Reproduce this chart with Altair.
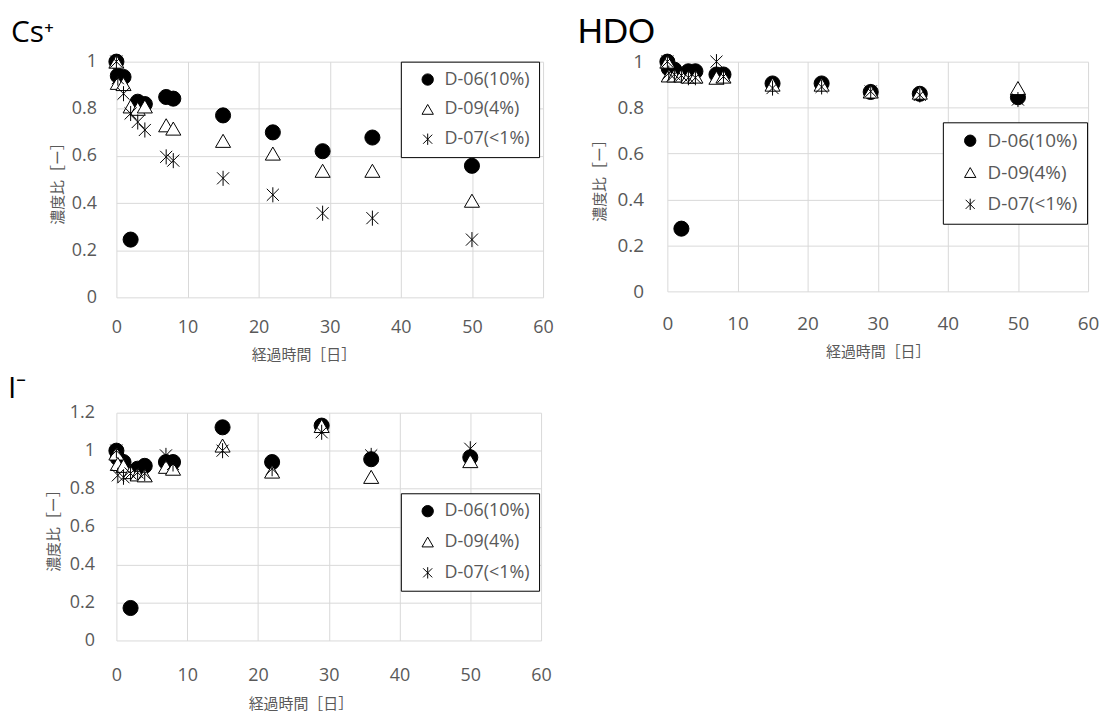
import altair as alt
import pandas as pd

# ---- data ----
times = [0, 0.2, 1, 2, 3, 4, 7, 8, 15, 22, 29, 36, 50]
series_names = ["D-06(10%)", "D-09(4%)", "D-07(<1%)"]

cs_d06 = [1.0, 0.94, 0.935, 0.245, 0.83, 0.82, 0.85, 0.843, 0.772, 0.70, 0.62, 0.678, 0.558]
cs_d09 = [1.0, 0.91, 0.905, 0.81, 0.80, 0.81, 0.73, 0.716, 0.664, 0.61, 0.537, 0.537, 0.41]
cs_d07 = [1.0, 0.93, 0.864, 0.78, 0.744, 0.71, 0.596, 0.58, 0.505, 0.435, 0.357, 0.336, 0.245]

hdo_d06 = [1.0, 0.97, 0.965, 0.273, 0.958, 0.958, 0.944, 0.944, 0.905, 0.905, 0.868, 0.86, 0.845]
hdo_d09 = [1.0, 0.94, 0.94, 0.94, 0.935, 0.935, 0.93, 0.935, 0.90, 0.90, 0.87, 0.865, 0.885]
hdo_d07 = [1.0, 0.95, 0.945, 0.94, 0.93, 0.93, 1.0, 0.935, 0.885, 0.89, 0.87, 0.855, 0.835]

i_d06 = [1.0, 0.96, 0.94, 0.171, 0.905, 0.92, 0.94, 0.94, 1.123, 0.94, 1.132, 0.955, 0.965]
i_d09 = [0.985, 0.93, 0.92, 0.887, 0.875, 0.87, 0.915, 0.905, 1.027, 0.89, 1.13, 0.862, 0.945]
i_d07 = [1.0, 0.87, 0.86, 0.88, 0.885, 0.88, 0.975, 0.93, 1.0, 0.905, 1.097, 0.975, 1.01]

x_ticks = [0, 10, 20, 30, 40, 50, 60]
y_ticks_1 = [0, 0.2, 0.4, 0.6, 0.8, 1.0]
y_ticks_12 = [0, 0.2, 0.4, 0.6, 0.8, 1.0, 1.2]

STAR = "M-0.8,-0.8L0.8,0.8M0.8,-0.8L-0.8,0.8M0,-1L0,1"
GRAY = "#595959"
GRID = "#d9d9d9"
LATIN = "Open Sans"
CJK = "Noto Sans CJK JP"


def frame(vals):
    rows = []
    for name, ys in zip(series_names, vals):
        for t, v in zip(times, ys):
            rows.append({"t": t, "v": v, "series": name})
    return pd.DataFrame(rows)


def panel(df, title, tfont, tfs, dx, toff, w, h, yticks, leg_x, leg_y, row_pad,
          ylabpad, ytitlepad, xlabpad, xtitlepad, xtitle_x=None, fs=18):
    legend = alt.Legend(
        title=None, orient="none", legendX=leg_x, legendY=leg_y,
        strokeColor="black", fillColor="white", padding=9,
        rowPadding=row_pad, labelFontSize=fs, labelColor=GRAY,
        labelFont=LATIN, symbolSize=130, symbolStrokeColor="black",
        symbolStrokeWidth=1, symbolOffset=9, labelOffset=8, labelLimit=300,
    )
    xaxis_kw = dict(
        values=x_ticks, format="d", grid=True, gridColor=GRID, domain=False,
        ticks=False, labelFlush=False, labelFontSize=fs, labelColor=GRAY,
        labelFont=LATIN, labelPadding=xlabpad, title="経過時間［日］",
        titleFont=CJK, titleFontSize=15, titleColor=GRAY,
        titleFontWeight="normal", titlePadding=xtitlepad,
    )
    if xtitle_x is not None:
        xaxis_kw["titleX"] = xtitle_x
    yaxis = alt.Axis(
        values=yticks, format="~g", grid=True, gridColor=GRID, domain=False,
        ticks=False, labelFlush=False, labelFontSize=fs, labelColor=GRAY,
        labelFont=LATIN, labelPadding=ylabpad, title="濃度比［ー］",
        titleFont=CJK, titleFontSize=15, titleColor=GRAY,
        titleFontWeight="normal", titlePadding=ytitlepad,
    )
    return alt.Chart(df).mark_point(filled=True, stroke="black", strokeWidth=1, opacity=1, size=230).encode(
        x=alt.X("t:Q", scale=alt.Scale(domain=[0, 60], nice=False), axis=alt.Axis(**xaxis_kw)),
        y=alt.Y("v:Q", scale=alt.Scale(domain=[0, yticks[-1]], nice=False), axis=yaxis),
        shape=alt.Shape("series:N", scale=alt.Scale(domain=series_names,
                        range=["circle", "triangle-up", STAR]), legend=legend),
        color=alt.Color("series:N", scale=alt.Scale(domain=series_names,
                        range=["#000000", "#ffffff", "transparent"]), legend=legend),
    ).properties(
        width=w, height=h,
        title=alt.TitleParams(text=title, anchor="start", frame="group", dx=dx,
                              fontSize=tfs, font=tfont, fontWeight="normal",
                              color="black", offset=toff),
    )


cs = panel(frame([cs_d06, cs_d09, cs_d07]), "Cs⁺", LATIN, 30, -106, 4, 429, 237, y_ticks_1,
           286, 0, 12, 20, 6, 21, 11, xtitle_x=188)
hdo = panel(frame([hdo_d06, hdo_d09, hdo_d07]), "HDO", "Liberation Sans", 35, -90, 2, 423, 231,
            y_ticks_1, 277, 61, 12, 24, 10, 23, 11, fs=19)
io = panel(frame([i_d06, i_d09, i_d07]), "I⁻", LATIN, 30, -109, 0, 427, 229, y_ticks_12,
           286, 81, 13, 22, 8, 26, 12, xtitle_x=185)

top = alt.hconcat(cs, hdo, spacing=24).resolve_scale(
    shape="independent", color="independent"
).resolve_legend(shape="independent", color="independent")

chart = alt.ConcatChart(concat=[top, io], columns=1, align="none", spacing=12).resolve_scale(
    shape="independent", color="independent"
).resolve_legend(shape="independent", color="independent").properties(
    padding={"left": 0, "top": 5, "right": 0, "bottom": 0}
).configure_view(strokeWidth=0)

chart.save("out.html", embed_options={"renderer": "svg", "actions": False})
